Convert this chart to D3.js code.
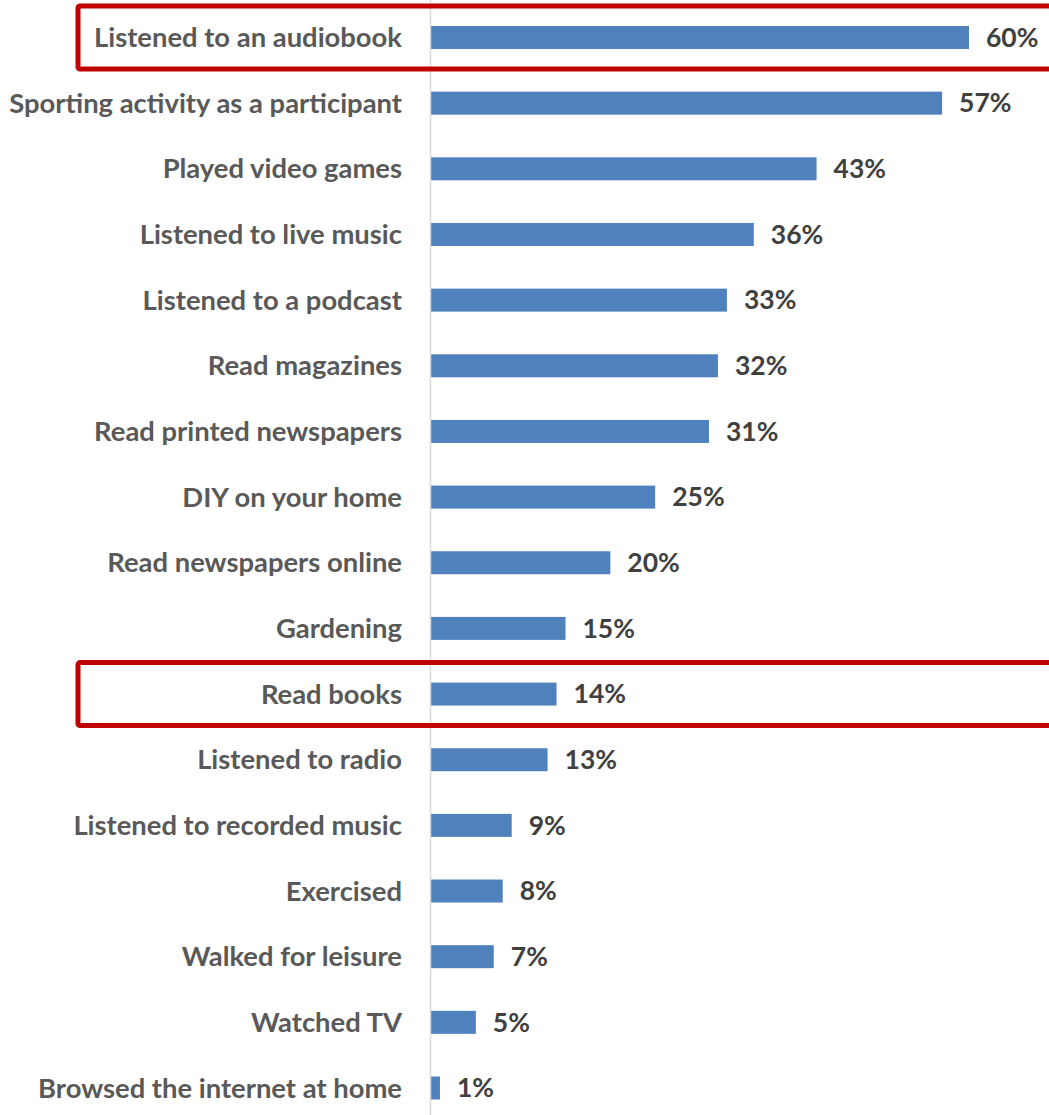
<!DOCTYPE html>
<html>
<head>
<meta charset="utf-8">
<script src="https://cdn.jsdelivr.net/npm/d3@7"></script>
<style>
  html, body { margin: 0; padding: 0; background: #ffffff; }
  svg { display: block; }
  text { font-family: Lato, "Open Sans", sans-serif; font-weight: 700; }
</style>
</head>
<body>
<svg id="chart" width="1049" height="1115"></svg>
<script>
// Activities and the share of respondents doing each (percent)
const categories = [
  "Listened to an audiobook",
  "Sporting activity as a participant",
  "Played video games",
  "Listened to live music",
  "Listened to a podcast",
  "Read magazines",
  "Read printed newspapers",
  "DIY on your home",
  "Read newspapers online",
  "Gardening",
  "Read books",
  "Listened to radio",
  "Listened to recorded music",
  "Exercised",
  "Walked for leisure",
  "Watched TV",
  "Browsed the internet at home"
];
const values = [60, 57, 43, 36, 33, 32, 31, 25, 20, 15, 14, 13, 9, 8, 7, 5, 1];
// Rows outlined in red
const highlighted = ["Listened to an audiobook", "Read books"];

const svg = d3.select("#chart");
const W = 1049, H = 1115;
const axisX = 431;

const x = d3.scaleLinear().domain([0, 60]).range([axisX, 969]);
const y = d3.scaleBand()
  .domain(categories)
  .range([4.67, 1120.83])
  .paddingInner(0.65)
  .paddingOuter(0.325);

const data = categories.map((c, i) => ({ cat: c, val: values[i] }));

// Bars
svg.append("g").selectAll("rect")
  .data(data)
  .join("rect")
  .attr("x", x(0))
  .attr("y", d => y(d.cat))
  .attr("width", d => x(d.val) - x(0))
  .attr("height", y.bandwidth())
  .attr("fill", "#4f81bd");

// Category axis line
svg.append("line")
  .attr("x1", axisX - 0.5).attr("x2", axisX - 0.5)
  .attr("y1", 0).attr("y2", H)
  .attr("stroke", "#d9d9d9")
  .attr("stroke-width", 1.5);

// Category labels
svg.append("g").selectAll("text")
  .data(data)
  .join("text")
  .attr("x", 402)
  .attr("y", d => y(d.cat) + y.bandwidth() / 2)
  .attr("dy", "0.35em")
  .attr("text-anchor", "end")
  .attr("fill", "#595959")
  .style("font-size", "27.4px")
  .text(d => d.cat);

// Value labels
svg.append("g").selectAll("text")
  .data(data)
  .join("text")
  .attr("x", d => x(d.val) + 17)
  .attr("y", d => y(d.cat) + y.bandwidth() / 2)
  .attr("dy", "0.35em")
  .attr("fill", "#404040")
  .style("font-size", "26.5px")
  .text(d => d.val + "%");

// Highlight frames
svg.append("g").selectAll("rect")
  .data(highlighted)
  .join("rect")
  .attr("x", 78)
  .attr("y", d => y(d) + y.bandwidth() / 2 - 31.5)
  .attr("width", 1000)
  .attr("height", 63)
  .attr("rx", 2)
  .attr("fill", "none")
  .attr("stroke", "#c00000")
  .attr("stroke-width", 5);
</script>
</body>
</html>
